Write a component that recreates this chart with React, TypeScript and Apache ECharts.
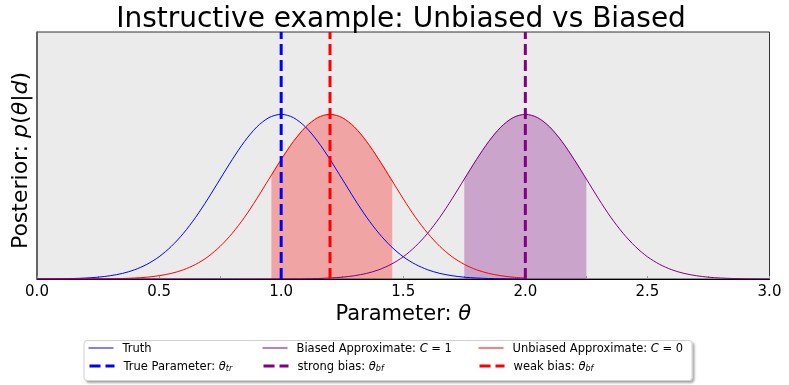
import React, { useEffect, useRef } from "react";
import * as echarts from "echarts";

// x grid (theta) for the posterior curves
const xGrid = [
  0.0, 0.05, 0.1, 0.15, 0.2, 0.25, 0.3, 0.35, 0.4, 0.45,
  0.5, 0.55, 0.6, 0.65, 0.7, 0.75, 0.8, 0.85, 0.9, 0.95,
  1.0, 1.05, 1.1, 1.15, 1.2, 1.25, 1.3, 1.35, 1.4, 1.45,
  1.5, 1.55, 1.6, 1.65, 1.7, 1.75, 1.8, 1.85, 1.9, 1.95,
  2.0, 2.05, 2.1, 2.15, 2.2, 2.25, 2.3, 2.35, 2.4, 2.45,
  2.5, 2.55, 2.6, 2.65, 2.7, 2.75, 2.8, 2.85, 2.9, 2.95, 3.0,
];

// Truth posterior (x 0.0 .. 2.0)
const truthY = [
  0.0003, 0.0007, 0.0015, 0.003, 0.006, 0.011, 0.02, 0.034, 0.056, 0.089,
  0.135, 0.198, 0.278, 0.375, 0.487, 0.607, 0.726, 0.835, 0.923, 0.98,
  1.0, 0.98, 0.923, 0.835, 0.726, 0.607, 0.487, 0.375, 0.278, 0.198,
  0.135, 0.089, 0.056, 0.034, 0.02, 0.011, 0.006, 0.003, 0.0015, 0.0007, 0.0003,
];

// Unbiased approximate posterior (x 0.0 .. 2.0)
const unbiasedY = [
  0.0, 0.00003, 0.00006, 0.00015, 0.0003, 0.0007, 0.0015, 0.003, 0.006, 0.011,
  0.02, 0.034, 0.056, 0.089, 0.135, 0.198, 0.278, 0.375, 0.487, 0.607,
  0.726, 0.835, 0.923, 0.98, 1.0, 0.98, 0.923, 0.835, 0.726, 0.607,
  0.487, 0.375, 0.278, 0.198, 0.135, 0.089, 0.056, 0.034, 0.02, 0.011, 0.006,
];

// Biased approximate posterior (x 0.0 .. 3.0)
const biasedY = [
  0, 0, 0, 0, 0, 0, 0, 0, 0, 0,
  0, 0, 0, 0, 0, 0, 0, 0, 0, 0.0001,
  0.0003, 0.0007, 0.0015, 0.003, 0.006, 0.011, 0.02, 0.034, 0.056, 0.089,
  0.135, 0.198, 0.278, 0.375, 0.487, 0.607, 0.726, 0.835, 0.923, 0.98,
  1.0, 0.98, 0.923, 0.835, 0.726, 0.607, 0.487, 0.375, 0.278, 0.198,
  0.135, 0.089, 0.056, 0.034, 0.02, 0.011, 0.006, 0.003, 0.0015, 0.0007, 0.0003,
];

// shaded credible bands
const weakBandX = [0.96, 1.0, 1.05, 1.1, 1.15, 1.2, 1.25, 1.3, 1.35, 1.4, 1.45, 1.455];
const weakBandY = [0.631, 0.726, 0.835, 0.923, 0.98, 1.0, 0.98, 0.923, 0.835, 0.726, 0.607, 0.594];
const strongBandX = [1.75, 1.8, 1.85, 1.9, 1.95, 2.0, 2.05, 2.1, 2.15, 2.2, 2.25];
const strongBandY = [0.607, 0.726, 0.835, 0.923, 0.98, 1.0, 0.98, 0.923, 0.835, 0.726, 0.607];

// parameter markers
const thetaTrue = 1.0;
const thetaWeak = 1.2;
const thetaStrong = 2.0;
const yRange = [0, 1.5];

const xTicks = [0.0, 0.5, 1.0, 1.5, 2.0, 2.5, 3.0];

const FONT = "DejaVu Sans";
const BLUE = "#0000ff";
const RED = "#ff0000";
const PURPLE = "#800080";

const zip = (xs: number[], ys: number[]) => ys.map((y, i) => [xs[i], y]);
const vline = (x: number) => [[x, yRange[0]], [x, yRange[1]]];

const legendRich: Record<string, string> = {
  "Truth": "Truth",
  "True Parameter: θtr": "True Parameter: {i|θ}{s|tr}",
  "Biased Approximate: C = 1": "Biased Approximate: {i|C} = 1",
  "strong bias: θbf": "strong bias: {i|θ}{s|bf}",
  "Unbiased Approximate: C = 0": "Unbiased Approximate: {i|C} = 0",
  "weak bias: θbf": "weak bias: {i|θ}{s|bf}",
};

const legendItems = [
  { name: "Truth", left: 88, top: 342, dashed: false },
  { name: "True Parameter: θtr", left: 88, top: 360, dashed: true },
  { name: "Biased Approximate: C = 1", left: 262, top: 342, dashed: false },
  { name: "strong bias: θbf", left: 262, top: 360, dashed: true },
  { name: "Unbiased Approximate: C = 0", left: 478, top: 342, dashed: false },
  { name: "weak bias: θbf", left: 478, top: 360, dashed: true },
];

export default function App() {
  const ref = useRef<HTMLDivElement>(null);
  useEffect(() => {
    if (!ref.current) return;
    const chart = echarts.init(ref.current, null, { renderer: "svg" });
    const line = (name: string, data: number[][], color: string, z: number, dashed = false) => ({
      type: "line",
      name,
      data,
      smooth: dashed ? false : 0.3,
      symbol: "none",
      showSymbol: false,
      z,
      lineStyle: dashed
        ? { color, width: 3, type: [11, 5] }
        : { color, width: 1 },
      itemStyle: { color },
    });
    const band = (data: number[][], color: string) => ({
      type: "line",
      data,
      smooth: 0.3,
      symbol: "none",
      showSymbol: false,
      z: 1,
      lineStyle: { width: 0.6, color, opacity: 0.35 },
      areaStyle: { color, opacity: 0.3, origin: "start" },
      silent: true,
    });
    chart.setOption({
      animation: false,
      textStyle: { fontFamily: FONT },
      title: {
        text: "Instructive example: Unbiased vs Biased",
        left: 401,
        textAlign: "center",
        top: 3,
        padding: 0,
        textStyle: { fontFamily: FONT, fontSize: 28, fontWeight: "normal", color: "#000" },
      },
      grid: {
        left: 33,
        right: 19.5,
        top: 32,
        bottom: 106,
        show: true,
        backgroundColor: "#ebebeb",
        borderColor: "#333",
        borderWidth: 1,
      },
      xAxis: {
        type: "value",
        min: xTicks[0],
        max: xTicks[xTicks.length - 1],
        interval: 0.5,
        name: "Parameter: {i|θ}",
        nameLocation: "middle",
        nameGap: 20,
        nameTextStyle: {
          fontFamily: FONT,
          fontSize: 21,
          color: "#000",
          verticalAlign: "top",
          rich: { i: { fontStyle: "italic", fontSize: 21, fontFamily: FONT, color: "#000" } },
        },
        axisLine: { show: true, onZero: false, lineStyle: { color: "#000", width: 1 } },
        axisTick: { show: true, inside: true, length: 3, lineStyle: { color: "#999" } },
        minorTick: { show: true, splitNumber: 2, length: 3, lineStyle: { color: "#999" } },
        splitLine: { show: false },
        axisLabel: {
          fontFamily: FONT,
          fontSize: 15,
          color: "#000",
          margin: 4,
          formatter: (v: number) => v.toFixed(1),
        },
      },
      yAxis: {
        type: "value",
        min: yRange[0],
        max: yRange[1],
        name: "Posterior: {i|p}({i|θ}|{i|d})",
        nameLocation: "middle",
        nameGap: 7,
        nameTextStyle: {
          fontFamily: FONT,
          fontSize: 22,
          color: "#000",
          padding: [0, 10, 0, 0],
          rich: { i: { fontStyle: "italic", fontSize: 22, fontFamily: FONT, color: "#000" } },
        },
        axisLine: { show: true, lineStyle: { color: "#555", width: 1.5 } },
        axisTick: { show: false },
        axisLabel: { show: false },
        splitLine: { show: false },
      },
      legend: legendItems.map((it) => ({
        data: [it.name],
        left: it.left,
        top: it.top,
        padding: 0,
        itemWidth: 25,
        itemHeight: 14,
        selectedMode: false,
        itemStyle: { opacity: 0 },
        lineStyle: { width: it.dashed ? 3 : 1 },
        formatter: (n: string) => legendRich[n] ?? n,
        textStyle: {
          fontFamily: FONT,
          fontSize: 11.5,
          color: "#000",
          padding: [0, 0, 0, 4],
          rich: {
            i: { fontStyle: "italic", fontSize: 11.5, fontFamily: FONT, color: "#000" },
            s: { fontStyle: "italic", fontSize: 8, fontFamily: FONT, color: "#000", padding: [5, 0, 0, 0] },
          },
        },
      })),
      graphic: [
        {
          type: "rect",
          left: 83.5,
          top: 340,
          z: -1,
          shape: { width: 608, height: 40, r: 3 },
          style: {
            fill: "#fff",
            stroke: "#d0d0d0",
            lineWidth: 1,
            shadowBlur: 2,
            shadowOffsetX: 2,
            shadowOffsetY: 2,
            shadowColor: "rgba(0,0,0,0.35)",
          },
        },
      ],
      series: [
        band(zip(weakBandX, weakBandY), RED),
        band(zip(strongBandX, strongBandY), PURPLE),
        line("Truth", zip(xGrid, truthY), BLUE, 3),
        line("Unbiased Approximate: C = 0", zip(xGrid, unbiasedY), RED, 4),
        line("Biased Approximate: C = 1", zip(xGrid, biasedY), PURPLE, 5),
        line("True Parameter: θtr", vline(thetaTrue), BLUE, 6, true),
        line("weak bias: θbf", vline(thetaWeak), RED, 6, true),
        line("strong bias: θbf", vline(thetaStrong), PURPLE, 6, true),
      ],
    });
    return () => chart.dispose();
  }, []);
  return (
    <div
      ref={ref}
      style={{ position: "fixed", left: 0, top: 0, width: 789, height: 385 }}
    />
  );
}
